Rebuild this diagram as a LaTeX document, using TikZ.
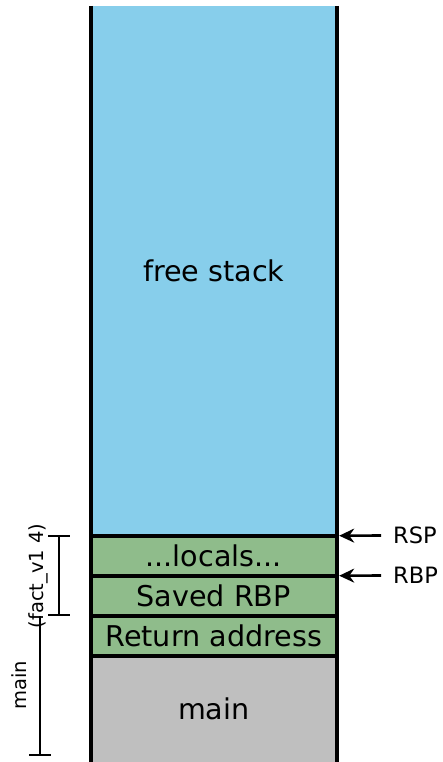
\documentclass[tikz,border=0pt]{standalone}
\usepackage{fontspec}
\setmainfont{DejaVu Sans}
\usetikzlibrary{arrows.meta}

\begin{document}
\begin{tikzpicture}[x=1pt, y=-1pt,
	cell/.style={inner sep=0pt, minimum width=245.5pt, font=\fontsize{28.6}{30}\selectfont},
	reg/.style={inner sep=0pt, font=\fontsize{22.5}{24}\selectfont},
	frame/.style={inner sep=0pt, rotate=90, font=\fontsize{19.5}{22}\selectfont},
	ptr/.style={line width=2.6pt, -{Stealth[length=15pt, width=14pt]}},
	brace/.style={line width=2pt}]
	\definecolor{freecol}{HTML}{87CEEB}
	\definecolor{usedcol}{HTML}{8FBC8B}
	\definecolor{maincol}{HTML}{BFBFBF}
	\useasboundingbox (0,0) rectangle (442,762);
	% stack cells, top to bottom
	\node[cell, fill=freecol, minimum height=529.5pt] (free) at (213.75, 270.75) {free stack};
	\node[cell, fill=usedcol, minimum height=40pt] (locals) at (213.75, 555.5) {...locals...};
	\node[cell, fill=usedcol, minimum height=40.5pt] (saved) at (213.75, 595.75) {Saved RBP};
	\node[cell, fill=usedcol, minimum height=40pt] (ret) at (213.75, 636) {Return address};
	\node[cell, fill=maincol, minimum height=106pt] (mainf) at (213.75, 709) {main};
	\foreach \c in {free, locals, saved, ret} {
		\draw[line width=4.2pt] (\c.south west) -- (\c.south east);
	}
	\draw[line width=4.2pt] (free.north west) -- (mainf.south west);
	\draw[line width=4.2pt] (free.north east) -- (mainf.south east);
	% registers
	\node[reg, anchor=west] (rsp) at (393, 535.5) {RSP};
	\node[reg, anchor=west] (rbp) at (393, 575.5) {RBP};
	\draw[ptr] ([xshift=-12pt]rsp.west) -- ([xshift=2.5pt]free.south east);
	\draw[ptr] ([xshift=-12pt]rbp.west) -- ([xshift=2.5pt]locals.south east);
	% frames
	\coordinate (fa) at (59, 535.5);
	\coordinate (fb) at (59, 615);
	\coordinate (ma) at (40, 616);
	\coordinate (mb) at (40, 755);
	\draw[brace] (fa) -- (fb);
	\draw[brace] ([xshift=-11pt]fa) -- ([xshift=11pt]fa);
	\draw[brace] ([xshift=-11pt]fb) -- ([xshift=11pt]fb);
	\draw[brace] (ma) -- (mb);
	\draw[brace] ([xshift=-11pt]mb) -- ([xshift=11pt]mb);
	\node[frame] (factlbl) at (38, 576) {(fact\_v1 4)};
	\node[frame] (mainlbl) at (19, 685) {main};
\end{tikzpicture}
\end{document}
